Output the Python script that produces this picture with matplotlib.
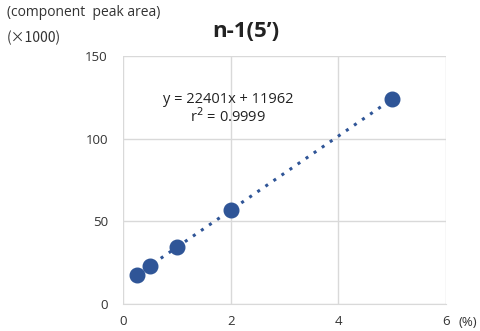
import numpy as np
import matplotlib
matplotlib.use("Agg")
import matplotlib.pyplot as plt

plt.rcParams['font.family'] = ['Open Sans', 'DejaVu Sans']

# Concentration (%) and component peak area (x1000)
conc = [0.25, 0.5, 1, 2, 5]
area = [17.6, 23.2, 34.4, 56.8, 124.0]
slope = 22401
intercept = 11962
x_ticks = [0, 2, 4, 6]
y_ticks = [0, 50, 100, 150]

fig = plt.figure(figsize=(4.81, 3.31), dpi=100)
ax = fig.add_axes([0.256, 0.0816, 0.671, 0.749])

grid_c = '#d9d9d9'
blue = '#2f5597'

# Linear fit line (dotted), in thousands
xf = np.array([conc[0], conc[-1]])
ax.plot(xf, (slope * xf + intercept) / 1000, linestyle=(0, (1, 2.2)),
        color=blue, lw=2.2, zorder=2)
ax.plot(conc, area, 'o', color=blue, markersize=10.5, zorder=3)

ax.set_xlim(0, 6)
ax.set_ylim(0, 150)
ax.set_xticks(x_ticks)
ax.set_yticks(y_ticks)
ax.grid(True, color=grid_c, lw=1)
ax.set_axisbelow(True)
for s in ['top', 'right', 'left']:
    ax.spines[s].set_visible(False)
ax.spines['bottom'].set_color(grid_c)
ax.tick_params(length=0, labelsize=9.5, colors='#333333')
ax.tick_params(axis='x', pad=8)
ax.tick_params(axis='y', pad=11)

ax.text(1.95, 118, 'y = 22401x + 11962\nr$^2$ = 0.9999', ha='center', va='center',
        fontsize=10.5, color='#222222', linespacing=1.05)

fig.text(0.953, 0.027, '(%)', fontsize=9.5, color='#333333', ha='left', va='center')
fig.text(0.015, 0.962, '(component  peak area)', fontsize=10, color='#333333', va='center')
fig.text(0.015, 0.885, '(\u00d71000)', fontsize=10, color='#333333', va='center',
         family=['Noto Sans CJK JP', 'Open Sans'])
fig.text(0.512, 0.905, 'n-1(5\u2019)', fontsize=16, fontweight='bold', color='#222222',
         ha='center', va='center')

fig.savefig('out.png', dpi=100)
